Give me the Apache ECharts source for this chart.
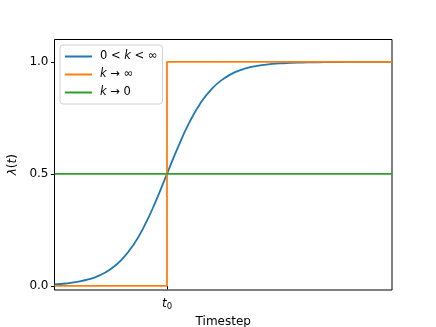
<!DOCTYPE html>
<html><head><meta charset="utf-8">
<script src="https://cdn.jsdelivr.net/npm/echarts@6/dist/echarts.min.js"></script>
<style>html,body{margin:0;padding:0;background:#fff}#c{width:436px;height:327px}</style>
</head><body><div id="c"></div>
<script>
// Data
const timesteps = [0,10,20,30,40,50,60,70,80,90,100,110,120,130,140,150,160,170,180,190,200,210,220,230,240,250,260,270,280,290,300];
const sigmoidVals = [0.007,0.011,0.018,0.029,0.047,0.076,0.119,0.182,0.269,0.378,0.5,0.622,0.731,0.818,0.881,0.924,0.953,0.971,0.982,0.989,0.993,0.996,0.997,0.998,0.999,0.999,1.0,1.0,1.0,1.0,1.0];
const stepX = [0,100,100,300];
const stepY = [0,0,1,1];
const flatX = [0,300];
const flatY = [0.5,0.5];
const seriesNames = ['0 < k < ∞','k → ∞','k → 0'];
const yTicks = [0,0.5,1.0];
const yTickLabels = ['0.0','0.5','1.0'];
const xTicks = [100];
const xTickLabels = ['t0'];

const FONT = 'DejaVu Sans';
const FS = 12;
const LFS = 11.5;
const zip = (a,b)=>a.map((v,i)=>[v,b[i]]);

const chart = echarts.init(document.getElementById('c'));
chart.setOption({
  animation:false,
  textStyle:{fontFamily:FONT},
  grid:{left:54.5,right:44,top:39.5,bottom:37,outerBoundsMode:'none',containLabel:false,show:true,borderColor:'#000',borderWidth:1,backgroundColor:'transparent'},
  legend:{
    left:60, top:45, orient:'vertical', icon:'rect', itemWidth:27, itemHeight:2, itemGap:5,
    padding:[5,5,5,5], backgroundColor:'#fff', borderColor:'#d0d0d0', borderWidth:1, borderRadius:3,
    data:seriesNames,
    textStyle:{fontFamily:FONT,fontSize:LFS,color:'#000',lineHeight:13,padding:[0,0,0,3],rich:{i:{fontStyle:'italic',fontFamily:FONT,fontSize:LFS}}},
    formatter:n=>n.replace('k','{i|k}')
  },
  xAxis:{type:'value',min:0,max:300,
    axisLine:{show:false},splitLine:{show:false},
    axisTick:{show:true,customValues:xTicks,length:3.5,lineStyle:{color:'#000'}},
    axisLabel:{customValues:xTicks,margin:6,formatter:v=>{const i=xTicks.indexOf(v);return i<0?'':'{t|t}{s|0}';},
      rich:{t:{fontStyle:'italic',fontFamily:FONT,fontSize:FS,color:'#000'},s:{fontFamily:FONT,fontSize:8.5,color:'#000',padding:[6,0,0,0]}}},
    name:'Timestep',nameLocation:'middle',nameGap:19,nameTextStyle:{fontFamily:FONT,fontSize:FS,color:'#000'}
  },
  yAxis:{type:'value',min:-0.018,max:1.1,
    axisLine:{show:false},splitLine:{show:false},
    axisTick:{show:true,customValues:yTicks,length:3.5,lineStyle:{color:'#000'}},
    axisLabel:{customValues:yTicks,margin:6,color:'#000',fontFamily:FONT,fontSize:FS,formatter:v=>{const i=yTicks.indexOf(v);return i<0?'':yTickLabels[i];}},
    name:'{i|λ}({i|t})',nameLocation:'middle',nameGap:17,
    nameTextStyle:{fontFamily:FONT,fontSize:FS,color:'#000',rich:{i:{fontStyle:'italic',fontFamily:FONT,fontSize:FS,color:'#000'}}}
  },
  series:[
    {name:seriesNames[0],type:'line',data:zip(timesteps,sigmoidVals),smooth:true,showSymbol:false,symbol:'none',lineStyle:{color:'#1f77b4',width:1.8},itemStyle:{color:'#1f77b4'}},
    {name:seriesNames[1],type:'line',data:zip(stepX,stepY),showSymbol:false,symbol:'none',lineStyle:{color:'#ff7f0e',width:1.8},itemStyle:{color:'#ff7f0e'}},
    {name:seriesNames[2],type:'line',data:zip(flatX,flatY),showSymbol:false,symbol:'none',lineStyle:{color:'#2ca02c',width:1.8},itemStyle:{color:'#2ca02c'}}
  ]
});
</script></body></html>
